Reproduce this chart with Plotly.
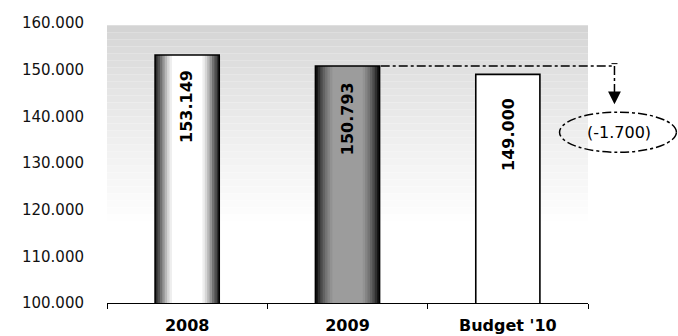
import plotly.graph_objects as go

categories = ["2008", "2009", "Budget '10"]
values = [153149, 150793, 149000]
value_labels = ["153.149", "150.793", "149.000"]
delta_label = "(-1.700)"
y_ticks = [100000, 110000, 120000, 130000, 140000, 150000, 160000]

FONT = "DejaVu Sans"

# gradient layers (width, colors per bar)
layers = [
    (0.40, ["#2e2e2e", "#141414", "#ffffff"]),
    (0.37, ["#505050", "#303030", "#ffffff"]),
    (0.34, ["#727272", "#4c4c4c", "#ffffff"]),
    (0.31, ["#959595", "#626262", "#ffffff"]),
    (0.28, ["#b8b8b8", "#747474", "#ffffff"]),
    (0.25, ["#d6d6d6", "#848484", "#ffffff"]),
    (0.22, ["#eeeeee", "#929292", "#ffffff"]),
    (0.19, ["#ffffff", "#9c9c9c", "#ffffff"]),
]

fig = go.Figure()
for w, cols in layers:
    fig.add_trace(go.Bar(x=categories, y=values, width=w,
                         marker=dict(color=cols, line=dict(width=0)),
                         hoverinfo="skip", showlegend=False))
# outline
fig.add_trace(go.Bar(x=categories, y=values, width=0.4,
                     marker=dict(color="rgba(0,0,0,0)", line=dict(color="black", width=1.6)),
                     showlegend=False))

# rotated value labels (x given as category serial numbers)
label_offsets = [11100, 11300, 12800]
for i, (v, t, off) in enumerate(zip(values, value_labels, label_offsets)):
    fig.add_annotation(x=i, y=v - off, text="<b>%s</b>" % t, textangle=-90,
                       showarrow=False, font=dict(family=FONT, size=16, color="black"))

shapes = []
# speckled gray background fading downward (non-overlapping bands)
top, step, nb = 159500, 1500, 28
for k in range(nb):
    y1 = top - k * step
    y0 = y1 - step
    g = int(212 + (254 - 212) * (k / (nb - 1)) ** 0.8)
    shapes.append(dict(type="rect", xref="paper", yref="y", x0=0, x1=1, y0=y0, y1=y1,
                       fillcolor="rgb(%d,%d,%d)" % (g, g, g), line=dict(width=0),
                       layer="below"))

def px2paper(px):
    return (px - 107) / 481.5

v09 = values[1]
x_line_end = px2paper(615)
shapes.append(dict(type="line", xref="paper", yref="y", x0=px2paper(381), x1=x_line_end,
                   y0=v09, y1=v09, line=dict(color="black", width=1.5, dash="dashdot")))
arrow_tip = v09 - 8200
shapes.append(dict(type="line", xref="paper", yref="y", x0=x_line_end, x1=x_line_end,
                   y0=v09, y1=arrow_tip + 2600, line=dict(color="black", width=1.5, dash="dashdot")))
shapes.append(dict(type="line", xref="paper", yref="y", x0=px2paper(612), x1=px2paper(618),
                   y0=v09 + 500, y1=v09 + 500, line=dict(color="black", width=1)))
# ellipse
shapes.append(dict(type="circle", xref="paper", yref="y", x0=px2paper(560), x1=px2paper(677),
                   y0=132300, y1=140900, line=dict(color="black", width=1.5, dash="dashdot")))
fig.add_annotation(xref="paper", yref="y", x=x_line_end, y=arrow_tip, ax=0, ay=-13,
                   text="", showarrow=True, arrowhead=2, arrowsize=1.6, arrowwidth=1.6,
                   arrowcolor="black")
fig.add_annotation(xref="paper", yref="y", x=px2paper(585), xanchor="left", y=136600,
                   text=delta_label, showarrow=False,
                   font=dict(family=FONT, size=16, color="black"))

fig.update_layout(
    width=678, height=336,
    margin=dict(l=107, r=89.5, t=23, b=33),
    barmode="overlay",
    paper_bgcolor="white", plot_bgcolor="white",
    separators=",.",
    shapes=shapes,
    font=dict(family=FONT, color="black"),
)
fig.update_xaxes(type="category", range=[-0.5, 2.5], showline=True, linecolor="black",
                 linewidth=1.2, ticks="outside", tickson="boundaries", ticklen=5,
                 tickcolor="black", showgrid=False, automargin=False, ticklabelstandoff=8,
                 tickfont=dict(family=FONT, size=16, color="black"),
                 tickvals=categories, ticktext=["<b>%s</b>" % c for c in categories])
fig.update_yaxes(range=[100000, 160000], tickvals=y_ticks, tickformat=",d", showgrid=False,
                 zeroline=False, showline=False, ticks="", ticklabelstandoff=22,
                 tickfont=dict(family=FONT, size=15, color="#111"))

fig.write_html("out.html")
